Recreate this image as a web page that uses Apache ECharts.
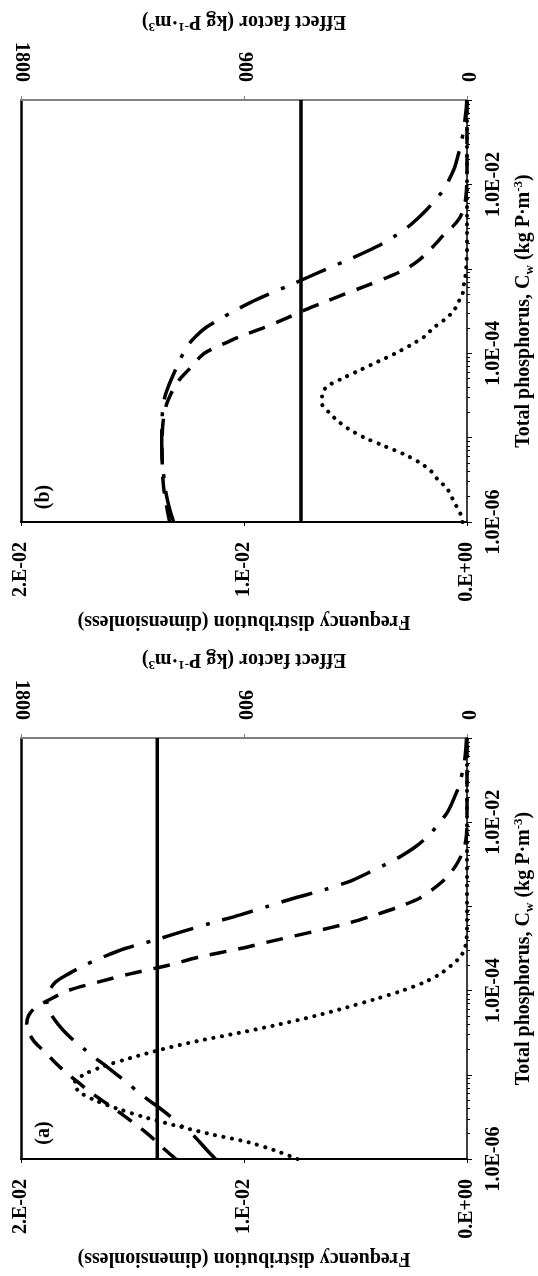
<!DOCTYPE html>
<html>
<head>
<meta charset="utf-8">
<title>Frequency distribution and effect factor of total phosphorus</title>
<script src="https://cdn.jsdelivr.net/npm/echarts@6/dist/echarts.min.js"></script>
<style>
  html, body { margin: 0; padding: 0; background: #fff; }
  #chart { width: 538px; height: 1276px; }
</style>
</head>
<body>
<div id="chart"></div>
<script>
// Total phosphorus, Cw (kg P/m3): every 0.1 decade from 1E-06 to 1E-01
const phosphorus = [
  1.00e-6, 1.26e-6, 1.58e-6, 2.00e-6, 2.51e-6, 3.16e-6, 3.98e-6, 5.01e-6, 6.31e-6, 7.94e-6,
  1.00e-5, 1.26e-5, 1.58e-5, 2.00e-5, 2.51e-5, 3.16e-5, 3.98e-5, 5.01e-5, 6.31e-5, 7.94e-5,
  1.00e-4, 1.26e-4, 1.58e-4, 2.00e-4, 2.51e-4, 3.16e-4, 3.98e-4, 5.01e-4, 6.31e-4, 7.94e-4,
  1.00e-3, 1.26e-3, 1.58e-3, 2.00e-3, 2.51e-3, 3.16e-3, 3.98e-3, 5.01e-3, 6.31e-3, 7.94e-3,
  1.00e-2, 1.26e-2, 1.58e-2, 2.00e-2, 2.51e-2, 3.16e-2, 3.98e-2, 5.01e-2, 6.31e-2, 7.94e-2,
  1.00e-1
];

// panel (a)
const freqA = [
  0.0076, 0.0086, 0.0098, 0.0116, 0.0131, 0.0145, 0.0157, 0.0167, 0.0174, 0.0176,
  0.0172, 0.0163, 0.0151, 0.0137, 0.0121, 0.0102, 0.0084, 0.0068, 0.0054, 0.0041,
  0.0029, 0.0019, 0.0012, 0.0007, 0.0003, 0.0001, 0.00003, 0, 0, 0,
  0, 0, 0, 0, 0, 0, 0, 0, 0, 0,
  0, 0, 0, 0, 0, 0, 0, 0, 0, 0,
  0
];
const dashA = [
  1175, 1215, 1250, 1290, 1332, 1378, 1425, 1475, 1523, 1565,
  1608, 1646, 1680, 1715, 1748, 1768, 1777, 1770, 1742, 1680,
  1610, 1490, 1360, 1205, 1080, 915, 770, 620, 480, 370,
  270, 190, 140, 97, 66, 42, 24, 11, 4, 1,
  0, 0, 0, 0, 0, 0, 0, 0, 0, 0,
  0
];
const dotDashA = [
  1015, 1048, 1078, 1112, 1155, 1195, 1238, 1285, 1330, 1368,
  1412, 1455, 1500, 1543, 1584, 1620, 1650, 1675, 1692, 1696,
  1685, 1661, 1608, 1543, 1468, 1380, 1260, 1150, 1035, 915,
  805, 695, 575, 470, 398, 328, 265, 212, 170, 137,
  110, 83, 65, 50, 36, 26, 18, 11, 7, 4,
  2
];
const meanA = 1250;

// panel (b)
const freqB = [
  0.0002, 0.0003, 0.0005, 0.0007, 0.0009, 0.0013, 0.0016, 0.0021, 0.0028, 0.0037,
  0.0046, 0.0053, 0.0058, 0.0062, 0.0065, 0.0065, 0.0063, 0.0056, 0.0048, 0.0040,
  0.0032, 0.0025, 0.0019, 0.0015, 0.0010, 0.0006, 0.0004, 0.0002, 0.00015, 0.00008,
  0.00004, 0.00002, 0, 0, 0, 0, 0, 0, 0, 0,
  0, 0, 0, 0, 0, 0, 0, 0, 0, 0,
  0
];
const dashB = [
  1200, 1207, 1213, 1219, 1224, 1227, 1229, 1230, 1231, 1231,
  1230, 1229, 1226, 1220, 1212, 1198, 1180, 1157, 1125, 1095,
  1060, 990, 915, 822, 740, 665, 580, 495, 405, 320,
  245, 195, 158, 125, 95, 58, 30, 15, 7, 3,
  1, 0, 0, 0, 0, 0, 0, 0, 0, 0,
  0
];
const dotDashB = [
  1184, 1195, 1204, 1212, 1218, 1222, 1226, 1229, 1231, 1232,
  1232, 1232, 1231, 1229, 1225, 1218, 1206, 1192, 1177, 1162,
  1145, 1125, 1095, 1055, 1000, 940, 875, 800, 720, 642,
  565, 484, 410, 340, 285, 237, 198, 163, 132, 104,
  82, 65, 50, 40, 31, 23, 16, 11, 7, 3,
  1
];
const meanB = 670;

// tick labels
const pTicks = [1e-6, 1e-4, 1e-2];
const pTickLabels = ['1.0E-06', '1.0E-04', '1.0E-02'];
const freqTicks = [0, 0.01, 0.02];
const freqTickLabels = ['0.E+00', '1.E-02', '2.E-02'];
const effTicks = [0, 900, 1800];
const effTickLabels = ['0', '900', '1800'];
const panelLabels = ['(b)', '(a)'];

// log minor ticks 2..9 in each decade
const minorTicks = [];
for (let e = -6; e < -1; e++) {
  for (let k = 2; k <= 9; k++) minorTicks.push(k * Math.pow(10, e));
}

const FONT = 'Liberation Serif';
const font = { fontFamily: FONT, fontWeight: 'bold', fontSize: 20, color: '#000' };
const rich = {
  sup: { fontFamily: FONT, fontWeight: 'bold', fontSize: 13, color: '#000', verticalAlign: 'top' },
  sub: { fontFamily: FONT, fontWeight: 'bold', fontSize: 13, color: '#000', verticalAlign: 'bottom' }
};

const pick = (ticks, labels) => (v) => {
  const i = ticks.findIndex((t) => Math.abs(t - v) < 1e-9);
  return i < 0 ? '' : labels[i];
};
const pickLog = (v) => {
  const i = pTicks.findIndex((t) => Math.abs(Math.log10(t) - Math.log10(v)) < 0.01);
  return i < 0 ? '' : pTickLabels[i];
};

const myChart = echarts.init(document.getElementById('chart'), null, { renderer: 'canvas' });

const grids = [
  { left: 21, top: 100, width: 446, height: 422, outerBoundsMode: 'none' },
  { left: 21, top: 738, width: 446, height: 421, outerBoundsMode: 'none' }
];

const xAxis = [];
const yAxis = [];
grids.forEach((g, gi) => {
  // frequency axis (bottom, reversed)
  xAxis.push({
    gridIndex: gi, type: 'value', position: 'bottom', inverse: true,
    min: 0, max: 0.02, interval: 0.01,
    name: 'Frequency distribution (dimensionless)', nameLocation: 'middle',
    nameGap: 89, nameRotate: 180, nameTextStyle: font,
    axisLine: { show: true, onZero: false, lineStyle: { color: '#000', width: 2 } },
    axisTick: { show: true, length: 4, lineStyle: { color: '#000', width: 1 } },
    axisLabel: { ...font, rotate: 90, margin: 20, formatter: pick(freqTicks, freqTickLabels) },
    splitLine: { show: false }
  });
  // effect factor axis (top, reversed)
  xAxis.push({
    gridIndex: gi, type: 'value', position: 'top', inverse: true,
    min: 0, max: 1800, interval: 900,
    name: 'Effect factor (kg P{sup|-1}·m{sup|3})', nameLocation: 'middle',
    nameGap: 67, nameRotate: 180, nameTextStyle: { ...font, lineHeight: 24, rich },
    axisLine: { show: true, onZero: false, lineStyle: { color: '#808080', width: 2 } },
    axisTick: { show: true, length: 4, lineStyle: { color: '#808080', width: 1 } },
    axisLabel: { ...font, rotate: 90, margin: 18, formatter: pick(effTicks, effTickLabels) },
    splitLine: { show: false }
  });
  // total phosphorus axis (right, log)
  yAxis.push({
    gridIndex: gi, type: 'log', logBase: 10, position: 'right',
    min: 1e-6, max: 1e-1,
    name: 'Total phosphorus, C{sub|w} (kg P·m{sup|-3})', nameLocation: 'middle',
    nameGap: 44, nameRotate: 90, nameTextStyle: { ...font, lineHeight: 24, rich },
    axisLine: { show: true, onZero: false, lineStyle: { color: '#000', width: 1.5 } },
    axisTick: { show: true, length: 5, lineStyle: { color: '#000', width: 1 } },
    axisLabel: { ...font, rotate: 90, margin: 17, formatter: pickLog },
    splitLine: { show: false }
  });
  // minor ticks of the log axis
  yAxis.push({
    gridIndex: gi, type: 'log', logBase: 10, position: 'right',
    min: 1e-6, max: 1e-1,
    axisLine: { show: false, onZero: false },
    axisTick: { show: true, length: 3, customValues: minorTicks, lineStyle: { color: '#000', width: 1 } },
    axisLabel: { show: false },
    splitLine: { show: false }
  });
  // plot border on the left
  yAxis.push({
    gridIndex: gi, type: 'value', position: 'left', min: 0, max: 1,
    axisLine: { show: true, onZero: false, lineStyle: { color: '#000', width: 2.5 } },
    axisTick: { show: false }, axisLabel: { show: false }, splitLine: { show: false }
  });
});

const toPairs = (vals) => vals.map((v, i) => [v, phosphorus[i]]);
const flat = (v) => [[v, phosphorus[0]], [v, phosphorus[phosphorus.length - 1]]];

const dotted = { color: '#000', width: 4, type: [0.1, 8.5], cap: 'round' };
const dashed = { color: '#000', width: 3.5, type: [17, 12], cap: 'butt' };
const dotDash = { color: '#000', width: 3.5, type: [32, 13, 4, 13], cap: 'butt' };
const solid = { color: '#000', width: 3.5 };

function panelSeries(gi, freq, dash, dd, mean) {
  const xf = gi * 2, xe = gi * 2 + 1, y = gi * 3;
  const base = { type: 'line', symbol: 'none', smooth: 0.3, yAxisIndex: y, silent: true };
  return [
    { ...base, name: 'Frequency', xAxisIndex: xf, data: toPairs(freq), lineStyle: dotted },
    { ...base, name: 'EF dashed', xAxisIndex: xe, data: toPairs(dash), lineStyle: dashed },
    { ...base, name: 'EF dash-dot', xAxisIndex: xe, data: toPairs(dd), lineStyle: dotDash },
    { ...base, name: 'EF mean', xAxisIndex: xe, smooth: false, data: flat(mean), lineStyle: solid }
  ];
}

const option = {
  animation: false,
  backgroundColor: '#fff',
  textStyle: { fontFamily: FONT },
  grid: grids,
  xAxis: xAxis,
  yAxis: yAxis,
  series: [
    ...panelSeries(0, freqB, dashB, dotDashB, meanB),
    ...panelSeries(1, freqA, dashA, dotDashA, meanA)
  ],
  graphic: [
    { type: 'text', x: 44, y: 497, rotation: Math.PI / 2,
      style: { text: panelLabels[0], font: 'bold 20px "Liberation Serif"', fill: '#000', align: 'center', verticalAlign: 'middle' } },
    { type: 'text', x: 44, y: 1133, rotation: Math.PI / 2,
      style: { text: panelLabels[1], font: 'bold 20px "Liberation Serif"', fill: '#000', align: 'center', verticalAlign: 'middle' } }
  ]
};

myChart.setOption(option);
window.addEventListener('resize', () => myChart.resize());
</script>
</body>
</html>
